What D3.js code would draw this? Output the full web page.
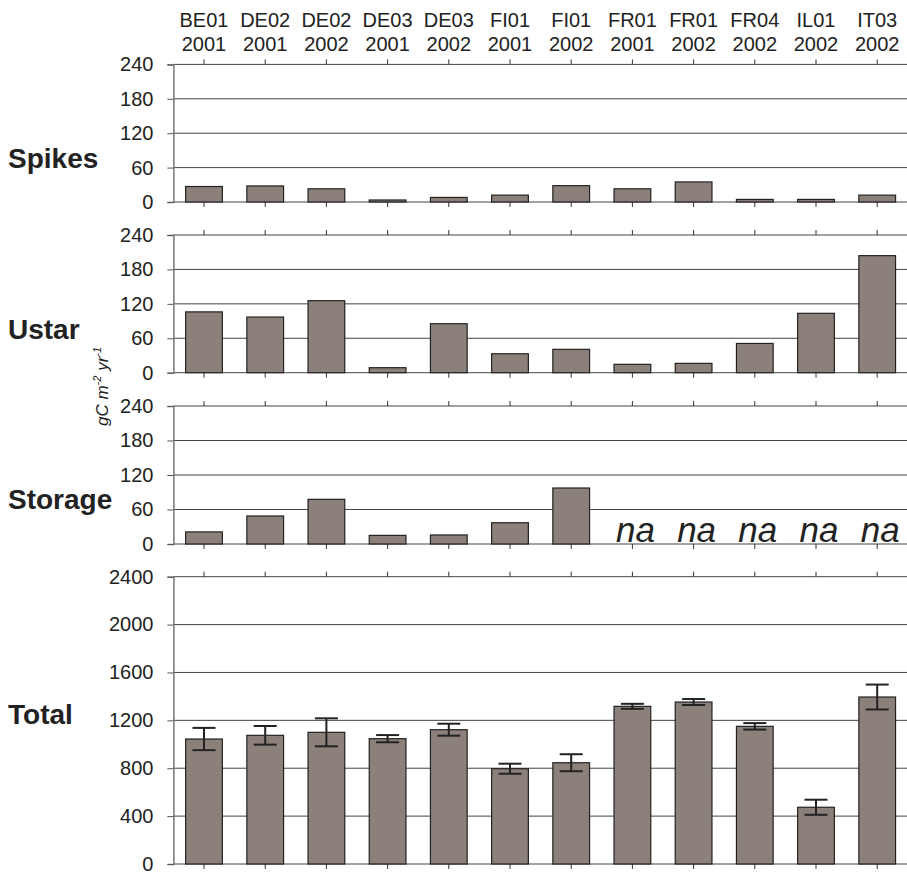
<!DOCTYPE html>
<html lang="en">
<head>
    <meta charset="UTF-8">
    <title>Flux corrections</title>
    <style>
        body{ margin:0; background:#fff; }
        svg{ display:block; font-family:"Liberation Sans", Arial, sans-serif; }
    </style>
    <script src="https://cdn.jsdelivr.net/npm/d3@7"></script>
</head>
<body>
<script>
    const width = 907
    const height = 872

    // data
    const sites = ["BE01","DE02","DE02","DE03","DE03","FI01","FI01","FR01","FR01","FR04","IL01","IT03"]
    const years = ["2001","2001","2002","2001","2002","2001","2002","2001","2002","2002","2002","2002"]
    const spikes = [27, 28, 23, 3.5, 8, 12, 28.5, 23, 35, 4.5, 4.5, 12]
    const ustar = [106, 97, 125.5, 8.7, 85.4, 33, 40.7, 14.6, 16.3, 51, 103.5, 204]
    const storage = [21, 48.7, 77.7, 15, 15.7, 37, 97.4, null, null, null, null, null]
    const total = [1044, 1075, 1100, 1047, 1122, 796, 846, 1317, 1353, 1150, 474, 1395]
    const totalErr = [93, 78, 117, 30, 50, 42, 71, 21, 25, 27, 63, 104]
    const smallTicks = [0, 60, 120, 180, 240]
    const totalTicks = [0, 400, 800, 1200, 1600, 2000, 2400]

    const panels = [
        {name:"Spikes", values:spikes, ticks:smallTicks, top:64.4, bottom:202, labelY:168},
        {name:"Ustar", values:ustar, ticks:smallTicks, top:235, bottom:372.7, labelY:339},
        {name:"Storage", values:storage, ticks:smallTicks, top:406, bottom:544, labelY:509},
        {name:"Total", values:total, err:totalErr, ticks:totalTicks, top:576.7, bottom:864, labelY:724}
    ]

    const barFill = "#8c807b"
    const ink = "#222"

    let svg = d3.select("body").append("svg")
        .attr("width", width)
        .attr("height", height)
        .attr("viewBox", `0 0 ${width} ${height}`)

    const x = d3.scaleBand()
        .domain(d3.range(sites.length))
        .range([173.4, 907.8])
        .paddingInner(0.4)
        .paddingOuter(0.2)
    const cx = i => x(i) + x.bandwidth()/2

    // category labels on top
    let gCat = svg.append("g")
    gCat.selectAll(".site")
        .data(sites)
        .enter()
        .append("text")
        .attr("x", (d,i)=>cx(i))
        .attr("y", 27)
        .attr("text-anchor","middle")
        .attr("font-size", 20)
        .attr("fill", ink)
        .text(d=>d)
    gCat.selectAll(".year")
        .data(years)
        .enter()
        .append("text")
        .attr("x", (d,i)=>cx(i))
        .attr("y", 51)
        .attr("text-anchor","middle")
        .attr("font-size", 20)
        .attr("fill", ink)
        .text(d=>d)

    panels.forEach(p=>{
        const maxV = p.ticks[p.ticks.length-1]
        const y = d3.scaleLinear().domain([0, maxV]).range([p.bottom, p.top])
        let g = svg.append("g")

        // gridlines
        g.selectAll(".grid")
            .data(p.ticks)
            .enter()
            .append("line")
            .attr("x1", 173.4).attr("x2", 907.8)
            .attr("y1", d=>y(d)).attr("y2", d=>y(d))
            .attr("stroke", "#444")
            .attr("stroke-width", 1)

        // left axis
        let yAxis = d3.axisLeft(y).tickValues(p.ticks).tickSize(6).tickPadding(14).tickFormat(d3.format("d"))
        let ga = g.append("g").attr("transform","translate(173.4,0)").call(yAxis)
        ga.select(".domain").attr("stroke","#777").attr("stroke-width",1.5)
        ga.selectAll(".tick line").attr("stroke","#555")
        ga.selectAll(".tick text")
            .attr("font-size", 20)
            .attr("font-family", "Liberation Sans, Arial, sans-serif")
            .attr("fill", ink)

        // category ticks top (up) and bottom (down)
        let topAxis = d3.axisTop(x).tickSize(5).tickFormat("")
        let gt = g.append("g").attr("transform",`translate(0,${p.top})`).call(topAxis)
        gt.select(".domain").remove()
        gt.selectAll(".tick line").attr("stroke","#333")
        let botAxis = d3.axisBottom(x).tickSize(5).tickFormat("")
        let gb = g.append("g").attr("transform",`translate(0,${p.bottom})`).call(botAxis)
        gb.select(".domain").remove()
        gb.selectAll(".tick line").attr("stroke","#333")

        // bars
        g.selectAll(".bar")
            .data(p.values.map((v,i)=>({v,i})).filter(d=>d.v!==null))
            .enter()
            .append("rect")
            .attr("x", d=>x(d.i))
            .attr("width", x.bandwidth())
            .attr("y", d=>y(d.v))
            .attr("height", d=>y(0)-y(d.v))
            .attr("fill", barFill)
            .attr("stroke", ink)
            .attr("stroke-width", 1.2)

        // na labels
        g.selectAll(".na")
            .data(p.values.map((v,i)=>({v,i})).filter(d=>d.v===null))
            .enter()
            .append("text")
            .attr("x", d=>cx(d.i)+3)
            .attr("y", p.bottom-2.5)
            .attr("text-anchor","middle")
            .attr("font-size", 35)
            .attr("font-style","italic")
            .attr("fill", ink)
            .text("na")

        // error bars
        if(p.err){
            let ge = g.selectAll(".err")
                .data(p.values.map((v,i)=>({v,e:p.err[i],i})))
                .enter()
                .append("g")
                .attr("stroke", ink)
                .attr("stroke-width", 2)
            ge.append("line")
                .attr("x1", d=>cx(d.i)).attr("x2", d=>cx(d.i))
                .attr("y1", d=>y(d.v+d.e)).attr("y2", d=>y(d.v-d.e))
            ge.append("line")
                .attr("x1", d=>cx(d.i)-11.5).attr("x2", d=>cx(d.i)+11.5)
                .attr("y1", d=>y(d.v+d.e)).attr("y2", d=>y(d.v+d.e))
            ge.append("line")
                .attr("x1", d=>cx(d.i)-11.5).attr("x2", d=>cx(d.i)+11.5)
                .attr("y1", d=>y(d.v-d.e)).attr("y2", d=>y(d.v-d.e))
        }

        // panel name
        svg.append("text")
            .attr("x", 8)
            .attr("y", p.labelY)
            .attr("font-size", 28)
            .attr("font-weight", "bold")
            .attr("fill", ink)
            .text(p.name)
    })

    // y unit label
    let yl = svg.append("text")
        .attr("transform","translate(108,426) rotate(-90)")
        .attr("font-size", 17)
        .attr("font-style","italic")
        .attr("fill", ink)
    yl.append("tspan").text("gC m")
    yl.append("tspan").attr("font-size", 11).attr("dy", -7).text("-2")
    yl.append("tspan").attr("dy", 7).text(" yr")
    yl.append("tspan").attr("font-size", 11).attr("dy", -7).text("-1")
</script>
</body>
</html>
